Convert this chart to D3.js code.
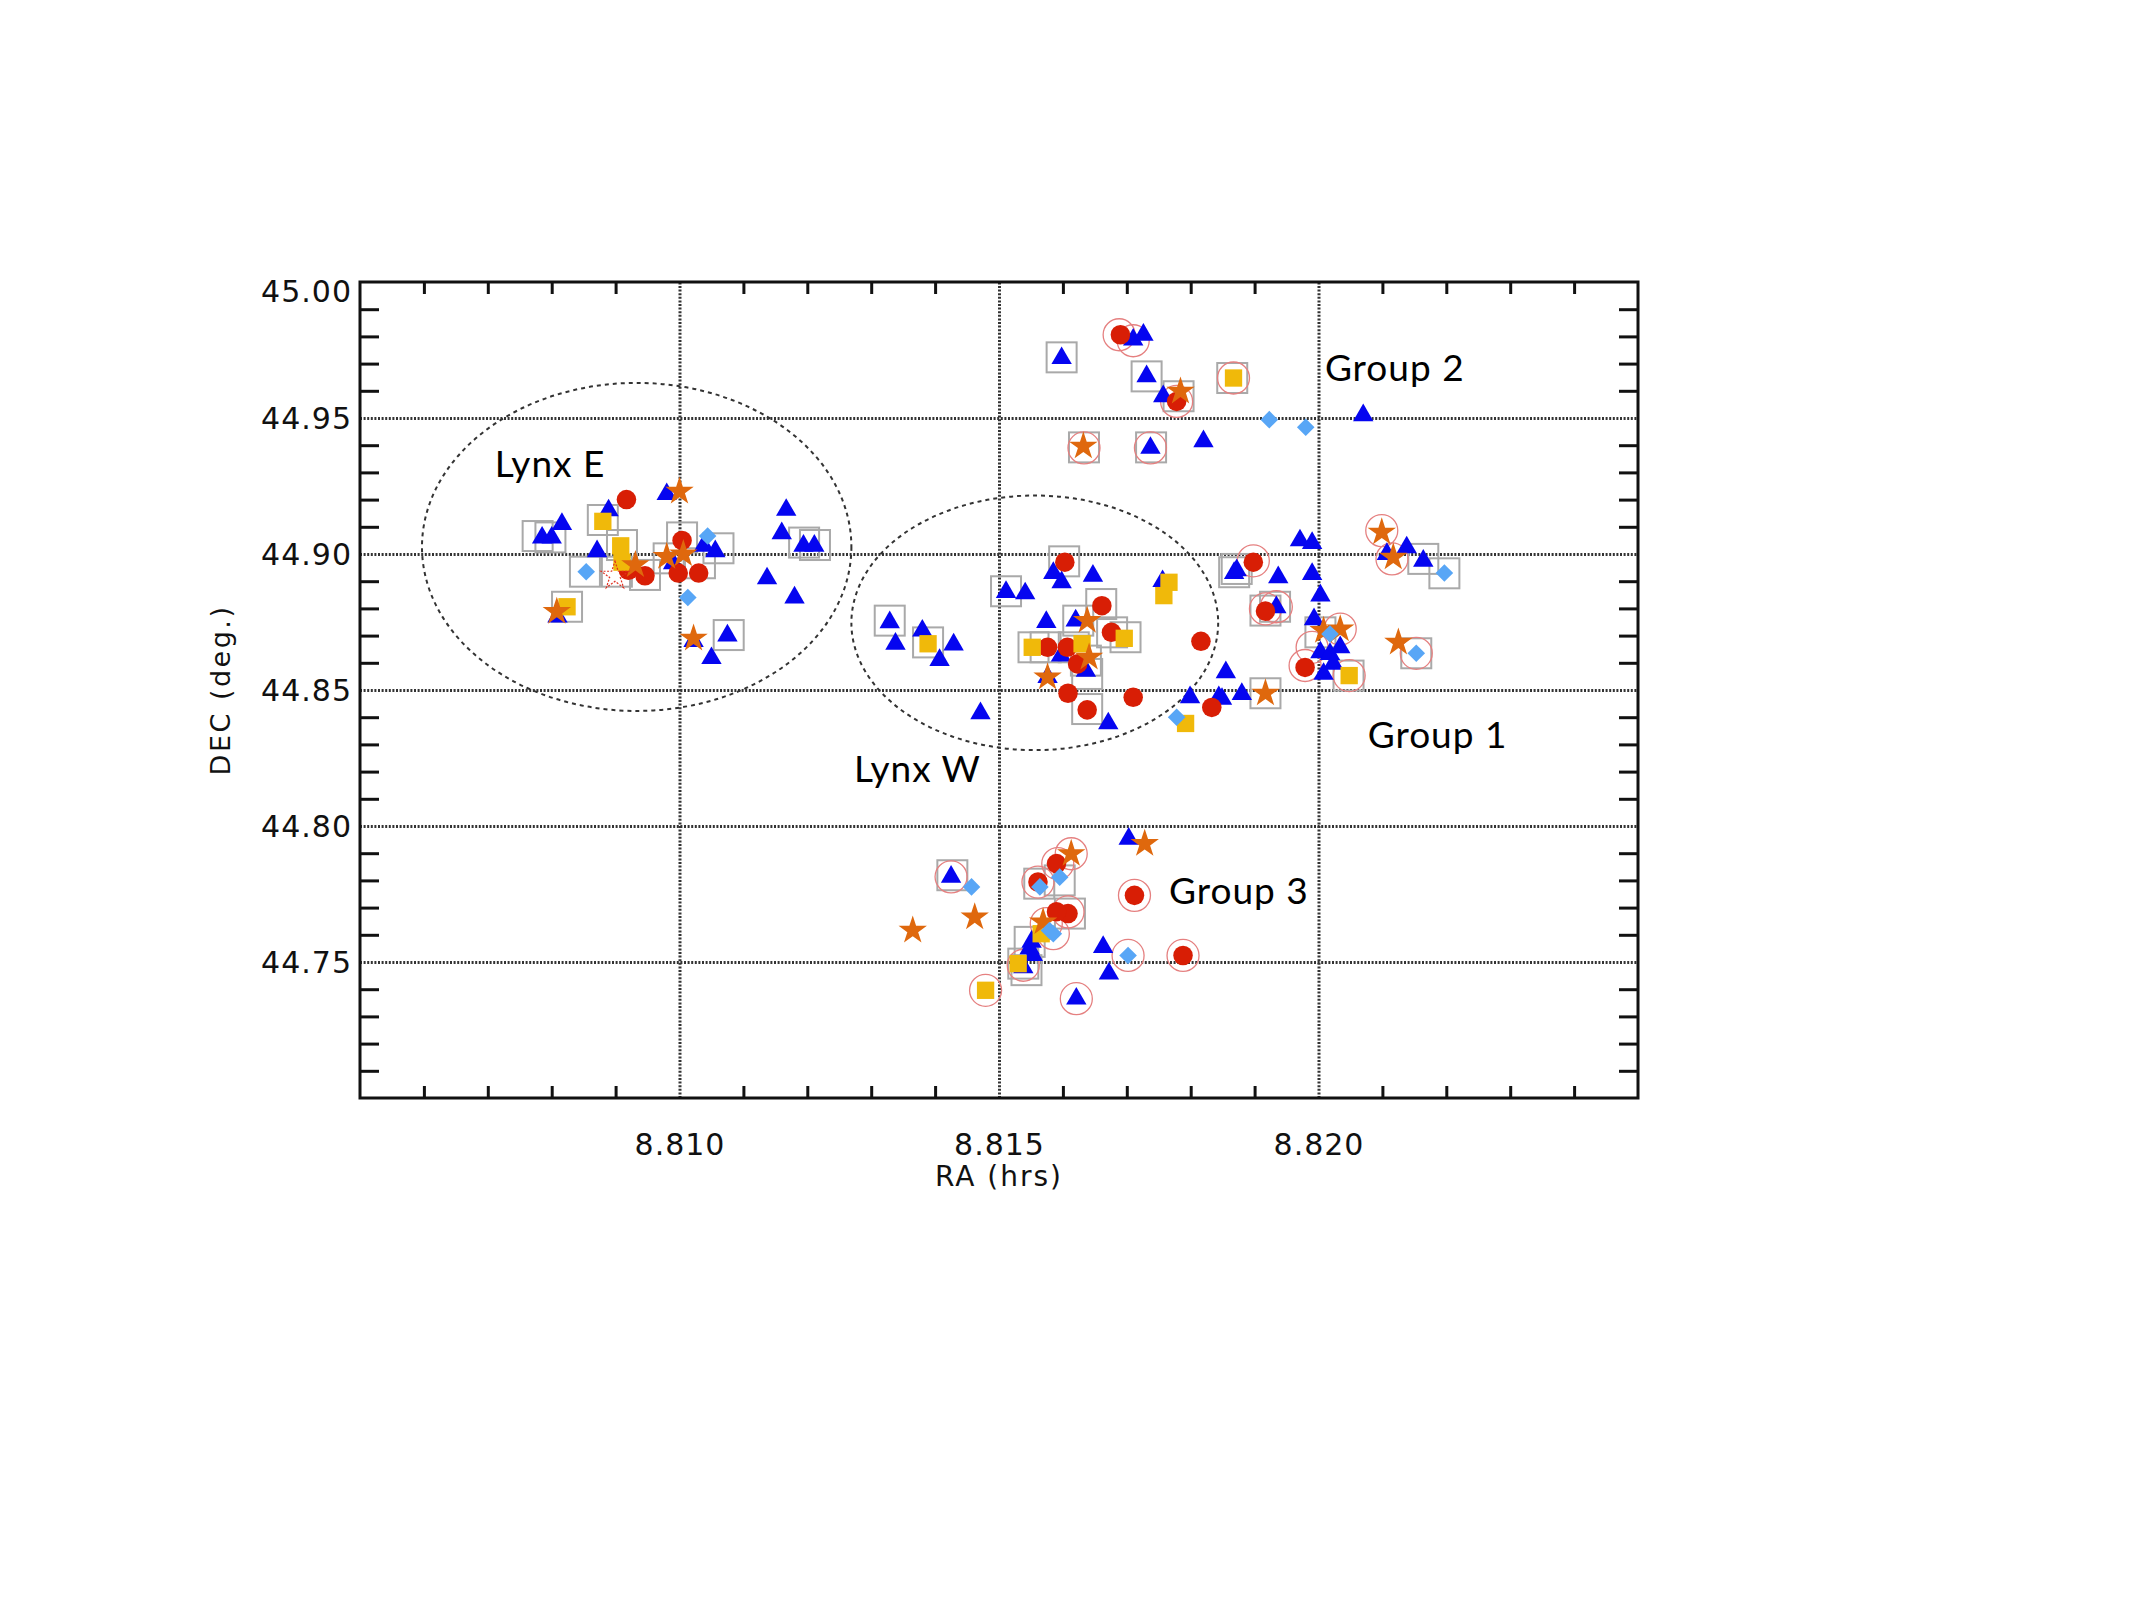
<!DOCTYPE html>
<html>
<head>
<meta charset="utf-8">
<script src="https://cdn.jsdelivr.net/npm/d3@7/dist/d3.min.js"></script>
<style>
  body { margin: 0; background: #fff; }
</style>
</head>
<body>
<script>
// ---------------- data (RA hrs, DEC deg) ----------------
var blueTriangles = [
  [8.80785,44.906],[8.80800,44.906],[8.80816,44.911],[8.80889,44.916],[8.80871,44.901],
  [8.80980,44.922],[8.80990,44.8966],[8.81038,44.903],[8.81056,44.901],[8.80809,44.877],
  [8.81022,44.868],[8.81075,44.870],[8.81050,44.8617],[8.81167,44.9162],[8.81160,44.9076],
  [8.81194,44.903],[8.81211,44.903],[8.81137,44.891],[8.81180,44.884],
  [8.81329,44.8749],[8.81338,44.867],[8.81380,44.8718],[8.81429,44.8667],[8.81407,44.861],
  [8.81471,44.8414],[8.81511,44.886],[8.81541,44.8855],[8.81585,44.893],[8.81598,44.8896],
  [8.81647,44.892],[8.81756,44.890],[8.81574,44.875],[8.81620,44.8755],[8.81597,44.8626],
  [8.81636,44.857],[8.81576,44.8547],[8.81671,44.8377],[8.81855,44.8565],[8.81799,44.8473],
  [8.81844,44.8473],[8.81868,44.893],
  [8.81971,44.905],[8.81990,44.904],[8.81872,44.894],[8.81937,44.8914],[8.81934,44.8804],
  [8.81990,44.8926],[8.82003,44.8847],[8.81993,44.876],[8.82003,44.8638],[8.82018,44.8632],
  [8.82034,44.8657],[8.82023,44.8596],[8.82008,44.8559],[8.81880,44.8485],[8.81849,44.8467],
  [8.82107,44.900],[8.82138,44.9024],[8.82164,44.8975],
  [8.81598,44.972],[8.81710,44.9788],[8.81726,44.9806],[8.81731,44.9653],[8.81757,44.958],
  [8.82070,44.951],[8.81737,44.939],[8.81820,44.9414],
  [8.81425,44.7813],[8.81703,44.7953],[8.81551,44.7574],[8.81548,44.755],[8.81553,44.7525],
  [8.81538,44.748],[8.81663,44.7555],[8.81672,44.7457],[8.81621,44.7365]
];
var redCircles = [
  [8.80917,44.920],[8.80920,44.894],[8.80946,44.892],[8.81004,44.905],[8.80998,44.893],[8.81030,44.893],
  [8.81603,44.897],[8.81661,44.881],[8.81676,44.8712],[8.81576,44.8657],[8.81607,44.8657],
  [8.81623,44.8596],[8.81608,44.8488],[8.81638,44.8427],[8.81710,44.8473],[8.81816,44.8679],[8.81833,44.8436],
  [8.81898,44.897],[8.81917,44.879],[8.81979,44.8583],
  [8.81690,44.9806],[8.81778,44.9561],
  [8.81590,44.7862],[8.81561,44.7794],[8.81712,44.7745],[8.81608,44.7678],[8.81590,44.7685],[8.81788,44.7524]
];
var yellowSquares = [
  [8.80880,44.912],[8.80908,44.903],[8.80910,44.897],[8.80824,44.8806],
  [8.81389,44.867],[8.81766,44.8896],[8.81758,44.8847],[8.81552,44.8657],[8.81696,44.869],
  [8.81630,44.867],[8.81792,44.8377],
  [8.82048,44.8553],[8.81867,44.9647],
  [8.81566,44.7604],[8.81530,44.7494],[8.81479,44.7396]
];
var orangeStars = [
  [8.81000,44.923],[8.80931,44.896],[8.80980,44.899],[8.81006,44.900],[8.80808,44.8788],[8.81022,44.869],
  [8.81638,44.8755],[8.81641,44.862],[8.81576,44.8547],
  [8.82008,44.8718],[8.82034,44.8724],[8.81917,44.8488],[8.82099,44.908],[8.82117,44.8988],[8.82125,44.8675],
  [8.81784,44.9598],[8.81632,44.9396],
  [8.81365,44.7616],[8.81462,44.7665],[8.81728,44.7935],[8.81613,44.7898],[8.81569,44.7647]
];
var blueDiamonds = [
  [8.80854,44.8935],[8.81044,44.9066],[8.81013,44.884],
  [8.81778,44.840],
  [8.82018,44.8706],[8.82197,44.893],[8.82153,44.8635],
  [8.81923,44.9494],[8.81980,44.9466],
  [8.81457,44.7776],[8.81564,44.7776],[8.81595,44.7812],[8.81579,44.7616],[8.81585,44.7604],[8.81702,44.7524]
];
var openRedStars = [[8.80899,44.892]];

// gray boxes and pink rings (identifications)
var boxes = [
  [8.80778,44.9066],[8.80798,44.9061],[8.80880,44.9125],[8.80910,44.9033],[8.80852,44.8935],
  [8.80902,44.8935],[8.80946,44.8923],[8.81004,44.9061],[8.80983,44.8984],[8.81032,44.8966],
  [8.81061,44.9021],[8.80824,44.8806],[8.81077,44.8702],[8.81195,44.9042],[8.81212,44.9033],
  [8.81329,44.8755],[8.81389,44.8675],[8.81511,44.8863],[8.81602,44.8973],[8.81660,44.8816],
  [8.81624,44.8755],[8.81677,44.8712],[8.81698,44.8694],[8.81554,44.8657],[8.81573,44.8657],
  [8.81617,44.8657],[8.81636,44.8608],[8.81638,44.8559],[8.81638,44.8430],[8.81868,44.8933],
  [8.81598,44.9723],[8.81731,44.9653],[8.81781,44.9580],[8.81865,44.9647],[8.81633,44.9392],[8.81738,44.9392],
  [8.81872,44.8945],[8.81917,44.8792],[8.81932,44.8806],[8.82003,44.8712],[8.82047,44.8553],
  [8.81917,44.8488],[8.82164,44.8982],[8.82197,44.8929],[8.82153,44.8635],
  [8.81427,44.7819],[8.81563,44.7788],[8.81595,44.7800],[8.81611,44.7678],[8.81548,44.7574],
  [8.81538,44.7494],[8.81543,44.7470]
];
var rings = [
  [8.81688,44.9806],[8.81710,44.9784],[8.81778,44.9561],[8.81867,44.9647],[8.81633,44.9390],[8.81737,44.9390],
  [8.81898,44.8975],[8.81917,44.8798],[8.81934,44.8806],[8.82034,44.8724],[8.81979,44.8590],
  [8.81990,44.8657],[8.82048,44.8553],[8.82099,44.9086],[8.82115,44.8982],[8.82153,44.8635],
  [8.81425,44.7813],[8.81613,44.7898],[8.81592,44.7862],[8.81561,44.7794],[8.81608,44.7684],
  [8.81574,44.7641],[8.81585,44.7604],[8.81712,44.7745],[8.81702,44.7524],[8.81788,44.7524],
  [8.81538,44.7488],[8.81479,44.7396],[8.81621,44.7365]
];

// dotted regions: [centre RA, centre DEC, half width RA, half height DEC]
var regions = [
  [8.80933,44.9026,0.00336,0.0603],
  [8.81556,44.8747,0.00287,0.0468]
];
// annotation text and its baseline-left position (RA, DEC)
var labels = [
  ["Lynx E",8.80711,44.9283],
  ["Lynx W",8.81273,44.8162],
  ["Group 2",8.82010,44.9636],
  ["Group 1",8.82077,44.8287],
  ["Group 3",8.81766,44.7713]
];

var xLabelTicks = [8.810, 8.815, 8.820];
var yLabelTicks = [45.00, 44.95, 44.90, 44.85, 44.80, 44.75];
var yGridTicks = [44.95, 44.90, 44.85, 44.80, 44.75];

// ---------------- layout ----------------
var W = 2134, H = 1600;
var pLeft = 360, pRight = 1638, pTop = 282, pBottom = 1098;

var svg = d3.select("body").append("svg")
    .attr("width", W)
    .attr("height", H)
    .style("font-family", "'DejaVu Sans', sans-serif");

var x = d3.scaleLinear().domain([8.805, 8.825]).range([pLeft, pRight]);
var y = d3.scaleLinear().domain([44.70, 45.00]).range([pBottom, pTop]);

var xMinor = d3.range(8.806, 8.8245, 0.001).filter(function(d){
  return Math.abs(d*1000 - Math.round(d*200)*5) > 0.1;
});
var yMinor = d3.range(44.71, 44.995, 0.01).filter(function(d){
  return Math.abs(d*100 - Math.round(d*20)*5) > 0.1;
});

//*********** grid lines *******************
var gridStyle = function(g){
  g.select(".domain").remove();
  g.selectAll("text").remove();
  g.selectAll("line")
    .attr("stroke", "#333")
    .attr("stroke-width", 3)
    .attr("stroke-dasharray", "2,1.6");
};
svg.append("g")
    .attr("transform", "translate(0," + pBottom + ")")
    .call(d3.axisBottom(x).tickValues(xLabelTicks).tickSize(-(pBottom-pTop)))
    .call(gridStyle);
svg.append("g")
    .attr("transform", "translate(" + pLeft + ",0)")
    .call(d3.axisLeft(y).tickValues(yGridTicks).tickSize(-(pRight-pLeft)))
    .call(gridStyle);

//*********** minor ticks on all four sides *******************
var tickStyle = function(g){
  g.select(".domain").remove();
  g.selectAll("text").remove();
  g.selectAll("line").attr("stroke", "#111").attr("stroke-width", 3);
};
svg.append("g").attr("transform", "translate(0," + pBottom + ")")
    .call(d3.axisBottom(x).tickValues(xMinor).tickSize(-12)).call(tickStyle);
svg.append("g").attr("transform", "translate(0," + pTop + ")")
    .call(d3.axisTop(x).tickValues(xMinor).tickSize(-12)).call(tickStyle);
svg.append("g").attr("transform", "translate(" + pLeft + ",0)")
    .call(d3.axisLeft(y).tickValues(yMinor).tickSize(-19)).call(tickStyle);
svg.append("g").attr("transform", "translate(" + pRight + ",0)")
    .call(d3.axisRight(y).tickValues(yMinor).tickSize(-19)).call(tickStyle);

//*********** tick labels *******************
var xl = svg.append("g").attr("transform", "translate(0," + pBottom + ")")
    .call(d3.axisBottom(x).tickValues(xLabelTicks).tickSize(0).tickPadding(36).tickFormat(d3.format(".3f")));
xl.select(".domain").remove();
xl.selectAll("text")
    .attr("fill", "#111")
    .style("font-size", "30px")
    .style("letter-spacing", "1px")
    .style("font-family", "'DejaVu Sans', sans-serif");

var yl = svg.append("g").attr("transform", "translate(" + pLeft + ",0)")
    .call(d3.axisLeft(y).tickValues(yLabelTicks).tickSize(0).tickPadding(8).tickFormat(d3.format(".2f")));
yl.select(".domain").remove();
yl.selectAll("text")
    .attr("fill", "#111")
    .attr("dy", function(d){ return d === 45.00 ? "0.65em" : "0.34em"; })
    .style("font-size", "30px")
    .style("letter-spacing", "1px")
    .style("font-family", "'DejaVu Sans', sans-serif");

//*********** axis titles *******************
svg.append("text")
    .attr("x", (pLeft+pRight)/2)
    .attr("y", 1186)
    .attr("text-anchor", "middle")
    .style("font-size", "28px")
    .style("letter-spacing", "2px")
    .attr("fill", "#111")
    .text("RA (hrs)");
svg.append("text")
    .attr("transform", "translate(230," + (pTop+pBottom)/2 + ") rotate(-90)")
    .attr("text-anchor", "middle")
    .style("font-size", "27px")
    .style("letter-spacing", "2.5px")
    .attr("fill", "#111")
    .text("DEC (deg.)");

//*********** dotted regions *******************
svg.selectAll("ellipse.region").data(regions).enter().append("ellipse")
    .attr("class", "region")
    .attr("cx", function(d){ return x(d[0]); })
    .attr("cy", function(d){ return y(d[1]); })
    .attr("rx", function(d){ return x(d[0]+d[2]) - x(d[0]); })
    .attr("ry", function(d){ return y(d[1]) - y(d[1]+d[3]); })
    .attr("fill", "none")
    .attr("stroke", "#333")
    .attr("stroke-width", 2)
    .attr("stroke-dasharray", "4,4");

//*********** identification boxes and rings *******************
svg.selectAll("rect.box").data(boxes).enter().append("rect")
    .attr("class", "box")
    .attr("x", function(d){ return x(d[0]) - 15; })
    .attr("y", function(d){ return y(d[1]) - 15; })
    .attr("width", 30)
    .attr("height", 30)
    .attr("fill", "none")
    .attr("stroke", "#a9a9a9")
    .attr("stroke-width", 2);

svg.selectAll("circle.ring").data(rings).enter().append("circle")
    .attr("class", "ring")
    .attr("cx", function(d){ return x(d[0]); })
    .attr("cy", function(d){ return y(d[1]); })
    .attr("r", 16)
    .attr("fill", "none")
    .attr("stroke", "#e58080")
    .attr("stroke-width", 1.3);

//*********** markers *******************
function drawMarks(data, type, size, color, rot, cls){
  svg.selectAll("path." + cls).data(data).enter().append("path")
    .attr("class", cls)
    .attr("d", d3.symbol().type(type).size(size))
    .attr("transform", function(d){
      return "translate(" + x(d[0]) + "," + y(d[1]) + ")" + (rot ? " rotate(" + rot + ")" : "");
    })
    .attr("fill", color);
}
drawMarks(blueTriangles, d3.symbolTriangle, 180, "#0505f0", 0, "tri");
drawMarks(redCircles, d3.symbolCircle, 300, "#d81e05", 0, "circ");
drawMarks(yellowSquares, d3.symbolSquare, 300, "#f0b90a", 0, "sq");
drawMarks(orangeStars, d3.symbolStar, 250, "#df680d", 0, "star");
drawMarks(blueDiamonds, d3.symbolSquare, 155, "#58a6f6", 45, "dia");

svg.selectAll("path.ostar").data(openRedStars).enter().append("path")
    .attr("class", "ostar")
    .attr("d", d3.symbol().type(d3.symbolStar).size(240))
    .attr("transform", function(d){ return "translate(" + x(d[0]) + "," + y(d[1]) + ")"; })
    .attr("fill", "none")
    .attr("stroke", "#e03020")
    .attr("stroke-width", 1.2)
    .attr("stroke-dasharray", "2,1.5");

//*********** annotations *******************
svg.selectAll("text.lab").data(labels).enter().append("text")
    .attr("class", "lab")
    .attr("x", function(d){ return x(d[1]); })
    .attr("y", function(d){ return y(d[2]); })
    .style("font-family", "Lato, 'Open Sans', sans-serif")
    .style("font-size", "37px")
    .style("letter-spacing", "1px")
    .attr("fill", "#000")
    .text(function(d){ return d[0]; });

//*********** frame *******************
svg.append("rect")
    .attr("x", pLeft)
    .attr("y", pTop)
    .attr("width", pRight-pLeft)
    .attr("height", pBottom-pTop)
    .attr("fill", "none")
    .attr("stroke", "#111")
    .attr("stroke-width", 3);
</script>
</body>
</html>
